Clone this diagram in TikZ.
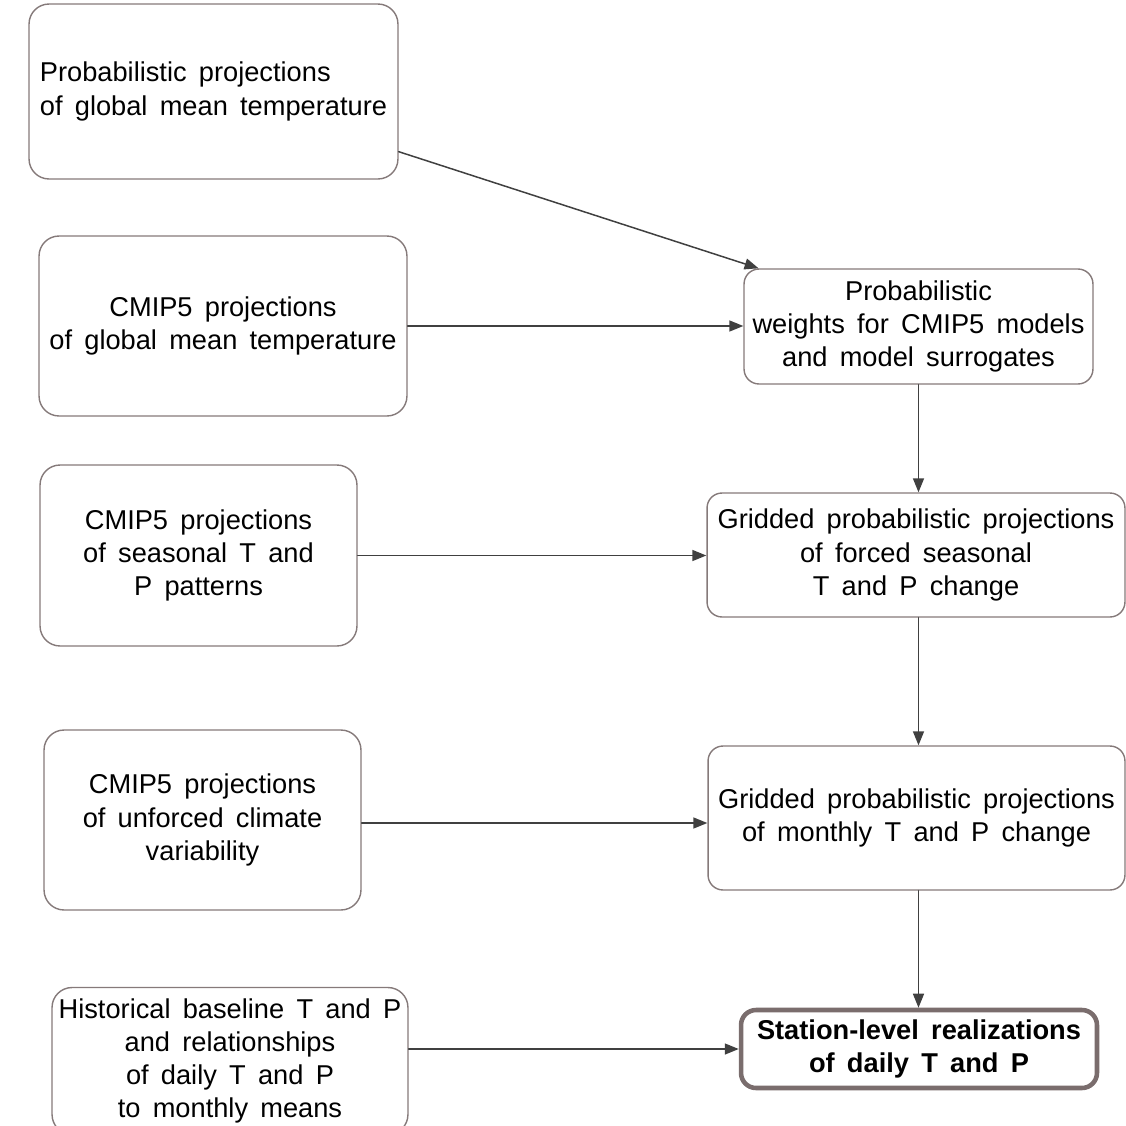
\documentclass[tikz,border=0pt]{standalone}
\usepackage{fontspec}
\setmainfont{Liberation Sans}
\usepackage{tikz}
\usepackage{xcolor}
\usetikzlibrary{calc}
\usetikzlibrary{arrows.meta, positioning}

\definecolor{boxgray}{HTML}{857A7A}
\definecolor{boldgray}{HTML}{7A6D6D}
\definecolor{arrgray}{HTML}{404040}
\newcommand{\widespaces}{\spaceskip=0.45em plus 0.1em\relax}

\begin{document}
\begin{tikzpicture}[x=0.02cm, y=-0.02cm, line cap=round, line join=round,
        every node/.style={font=\fontsize{15.5}{18.9}\selectfont\widespaces},
        box/.style={draw=boxgray, line width=0.8pt, rounded corners=0.4cm, align=center, inner sep=0pt},
        finalbox/.style={box, draw=boldgray, line width=2.6pt, rounded corners=0.3cm, font=\fontsize{15.5}{18.9}\selectfont\bfseries\widespaces},
        arr/.style={-{Triangle[length=0.28cm, width=0.22cm]}, draw=arrgray, fill=arrgray, line width=0.85pt}]
        \useasboundingbox (0,0) rectangle (1126,1126);
        \clip (0,0) rectangle (1126,1126);

        % inputs (left column)
        \node[box, align=left, minimum width=7.38cm, minimum height=3.5cm] (glob) at (213.5,91.5)
            {Probabilistic projections\\of global mean temperature};
        \node[box, minimum width=7.36cm, minimum height=3.6cm] (cmipglob) at (223,326)
            {CMIP5 projections\\of global mean temperature};
        \node[box, minimum width=6.34cm, minimum height=3.62cm] (cmipseas) at (198.5,555.5)
            {CMIP5 projections\\of seasonal T and\\P patterns};
        \node[box, minimum width=6.34cm, minimum height=3.6cm] (cmipvar) at (202.5,820)
            {CMIP5 projections\\of unforced climate\\variability};
        \node[box, minimum width=7.12cm, minimum height=2.94cm] (hist) at (230,1061)
            {Historical baseline T and P\\and relationships\\of daily T and P\\to monthly means};

        % chain (right column)
        \node[box, rounded corners=0.3cm, minimum width=6.98cm, minimum height=2.3cm] (weights) at (918.5,326.5)
            {Probabilistic\\weights for CMIP5 models\\and model surrogates};
        \node[box, rounded corners=0.3cm, minimum width=8.36cm, minimum height=2.48cm] (seas) at (916,555)
            {Gridded probabilistic projections\\of forced seasonal\\T and P change};
        \node[box, rounded corners=0.3cm, minimum width=8.34cm, minimum height=2.88cm] (month) at (916.5,818)
            {Gridded probabilistic projections\\of monthly T and P change};
        \node[finalbox, minimum width=7.12cm, minimum height=1.56cm] (station) at (919,1049)
            {Station-level realizations\\of daily T and P};

        % connectors
        \draw[arr] (glob.-18) -- (weights.160);
        \draw[arr] (cmipglob.east) -- (cmipglob.east -| weights.west);
        \draw[arr] (weights.south) -- (weights.south |- seas.north);
        \draw[arr] (cmipseas.east) -- (cmipseas.east -| seas.west);
        \draw[arr] (seas.south -| weights.south) -- (weights.south |- month.north);
        \draw[arr] ($(cmipvar.east)+(0,3)$) -- ($(cmipvar.east -| month.west)+(0,3)$);
        \draw[arr] (month.south -| weights.south) -- (weights.south |- station.north);
        \draw[arr] (station.west -| hist.east) -- (station.west);
    \end{tikzpicture}
\end{document}
